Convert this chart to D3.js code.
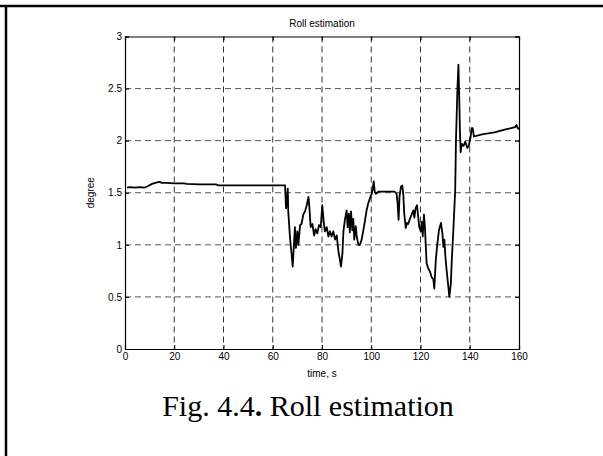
<!DOCTYPE html>
<html>
<head>
<meta charset="utf-8">
<script src="https://cdn.jsdelivr.net/npm/d3@7/dist/d3.min.js"></script>
<style>
  body { margin: 0; background: #fff; }
  svg { display: block; }
  .tick text { font-family: "Liberation Sans", Arial, sans-serif; font-size: 10px; fill: #000; }
</style>
</head>
<body>
<svg></svg>
<script>
// roll estimate over time, ten samples per row (s -> degree)
var timeS = [
  0.8, 2, 4, 6, 8, 9, 11, 13, 14, 15,
  17, 20, 24, 25, 30, 37, 38, 45, 55, 64,
  65.0, 65.2, 65.4, 65.8, 66.1, 66.3, 67.0, 67.7, 68.1, 68.6,
  69.0, 69.4, 70.0, 70.4, 71.1, 71.7, 72.4, 73.1, 73.8, 74.5,
  74.9, 75.4, 76.1, 76.8, 77.4, 78.1, 78.8, 79.5, 80.1, 80.8,
  81.2, 81.9, 82.6, 83.2, 83.9, 84.6, 85.3, 86.0, 86.6, 87.3,
  87.7, 88.3, 88.7, 89.3, 90.0, 90.4, 90.9, 91.3, 91.8, 92.3,
  92.7, 93.1, 93.7, 94.1, 94.8, 95.4, 96.1, 96.8, 97.5, 98.1,
  98.8, 99.5, 100.2, 100.6, 101.0, 101.4, 101.9, 102.9, 105.6, 109.6,
  110.3, 110.7, 111.1, 111.5, 112.1, 112.6, 113.0, 113.4, 114.0, 114.5,
  115.0, 115.7, 116.4, 117.1, 117.5, 118.0, 118.6, 119.1, 119.5, 120.1,
  120.5, 120.9, 121.4, 121.8, 122.1, 122.5, 123.2, 123.9, 124.5, 125.2,
  125.6, 126.2, 126.8, 127.5, 128.3, 128.9, 129.3, 129.7, 130.1, 130.6,
  131.3, 131.7, 132.3, 132.7, 133.4, 134.1, 134.4, 135.0, 135.4, 135.7,
  136.0, 136.3, 136.8, 137.5, 138.2, 139.0, 139.6, 140.3, 140.8, 141.2,
  141.7, 145, 150, 155, 158.4, 159.0, 159.5, 160];
var rollDeg = [
  1.55, 1.555, 1.55, 1.555, 1.55, 1.56, 1.585, 1.60, 1.605, 1.595,
  1.595, 1.59, 1.59, 1.585, 1.58, 1.58, 1.57, 1.57, 1.57, 1.57,
  1.57, 1.45, 1.35, 1.43, 1.54, 1.32, 1.07, 0.90, 0.79, 1.0,
  1.17, 0.97, 1.13, 1.0, 1.19, 1.20, 1.29, 1.32, 1.38, 1.46,
  1.35, 1.17, 1.20, 1.09, 1.15, 1.11, 1.19, 1.17, 1.38, 1.20,
  1.13, 1.17, 1.08, 1.13, 1.08, 1.13, 1.05, 1.09, 0.95, 0.85,
  0.79, 0.92, 1.13, 1.24, 1.33, 1.17, 1.30, 1.12, 1.32, 1.14,
  1.25, 1.05, 1.18, 1.08, 1.0, 1.0, 1.05, 1.14, 1.24, 1.33,
  1.40, 1.45, 1.49, 1.54, 1.61, 1.51, 1.49, 1.51, 1.51, 1.51,
  1.49, 1.40, 1.24, 1.47, 1.56, 1.57, 1.49, 1.30, 1.16, 1.21,
  1.20, 1.25, 1.29, 1.33, 1.26, 1.35, 1.38, 1.26, 1.17, 1.13,
  1.22, 1.08, 1.29, 1.17, 1.01, 0.82, 0.77, 0.74, 0.69, 0.67,
  0.58, 0.85, 1.00, 1.14, 1.21, 1.11, 0.98, 1.05, 0.89, 0.76,
  0.60, 0.50, 0.62, 0.85, 1.17, 1.53, 2.0, 2.5, 2.73, 2.45,
  2.1, 1.89, 1.97, 1.95, 1.99, 1.93, 1.95, 2.03, 2.12, 2.12,
  2.04, 2.06, 2.08, 2.11, 2.13, 2.15, 2.12, 2.11];
var xTicks = [0, 20, 40, 60, 80, 100, 120, 140, 160];
var yTicks = [0, 0.5, 1, 1.5, 2, 2.5, 3];

var svgWidth = 603, svgHeight = 456;
var plotLeft = 125, plotTop = 36.5, plotW = 394, plotH = 312.5;

var svg = d3.select("svg")
    .attr("width", svgWidth)
    .attr("height", svgHeight);

// page frame (table cell edges)
svg.append("line").attr("x1", 0).attr("x2", svgWidth).attr("y1", 6).attr("y2", 6)
    .attr("stroke", "#000").attr("stroke-width", 2.5);
svg.append("line").attr("x1", 6).attr("x2", 6).attr("y1", 6).attr("y2", svgHeight)
    .attr("stroke", "#000").attr("stroke-width", 2.5);

var x = d3.scaleLinear().domain([0, 160]).range([0, plotW]);
var y = d3.scaleLinear().domain([0, 3]).range([plotH, 0]);
var fmt = d3.format("~g");

var g = svg.append("g").attr("transform", "translate(" + plotLeft + "," + plotTop + ")");

// dashed grid
g.selectAll(".vgrid")
    .data(xTicks.slice(1, -1))
    .enter()
    .append("line")
    .attr("x1", function(d) { return x(d); })
    .attr("x2", function(d) { return x(d); })
    .attr("y1", 0)
    .attr("y2", plotH)
    .attr("stroke", "#333")
    .attr("stroke-dasharray", "6,4");
g.selectAll(".hgrid")
    .data(yTicks.slice(1, -1))
    .enter()
    .append("line")
    .attr("x1", 0)
    .attr("x2", plotW)
    .attr("y1", function(d) { return y(d); })
    .attr("y2", function(d) { return y(d); })
    .attr("stroke", "#555")
    .attr("stroke-dasharray", "6,4");

// axes with inward ticks, box on all sides
g.append("g").attr("transform", "translate(0," + plotH + ")")
    .call(d3.axisBottom(x).tickValues(xTicks).tickFormat(fmt).tickSize(-4).tickPadding(4));
g.append("g")
    .call(d3.axisLeft(y).tickValues(yTicks).tickFormat(fmt).tickSize(-4).tickPadding(3));
g.append("g").call(d3.axisTop(x).tickValues(xTicks).tickSize(-4).tickFormat(""));
g.append("g").attr("transform", "translate(" + plotW + ",0)")
    .call(d3.axisRight(y).tickValues(yTicks).tickSize(-4).tickFormat(""));
g.selectAll(".domain").attr("stroke", "#000").attr("stroke-width", 1.2);
g.selectAll(".tick line").attr("stroke", "#000");

// roll curve
var line = d3.line()
    .x(function(d, i) { return x(timeS[i]); })
    .y(function(d) { return y(d); });
g.append("path")
    .datum(rollDeg)
    .attr("d", line)
    .attr("fill", "none")
    .attr("stroke", "#000")
    .attr("stroke-width", 1.8)
    .attr("stroke-linejoin", "round");

// labels
svg.append("text")
    .attr("x", plotLeft + plotW / 2).attr("y", 27)
    .attr("text-anchor", "middle")
    .style("font-family", "Liberation Sans, Arial, sans-serif").style("font-size", "10px")
    .text("Roll  estimation");
svg.append("text")
    .attr("x", plotLeft + plotW / 2).attr("y", plotTop + plotH + 28)
    .attr("text-anchor", "middle")
    .style("font-family", "Liberation Sans, Arial, sans-serif").style("font-size", "10px")
    .text("time, s");
svg.append("text")
    .attr("transform", "translate(94," + (plotTop + plotH / 2) + ") rotate(-90)")
    .attr("text-anchor", "middle")
    .style("font-family", "Liberation Sans, Arial, sans-serif").style("font-size", "10px")
    .text("degree");

var caption = svg.append("text")
    .attr("x", 308).attr("y", 416)
    .attr("text-anchor", "middle")
    .style("font-family", "Liberation Serif, Times New Roman, serif").style("font-size", "30px");
caption.append("tspan").text("Fig. 4.4");
caption.append("tspan").style("font-weight", "bold").text(".");
caption.append("tspan").text(" Roll estimation");
</script>
</body>
</html>
